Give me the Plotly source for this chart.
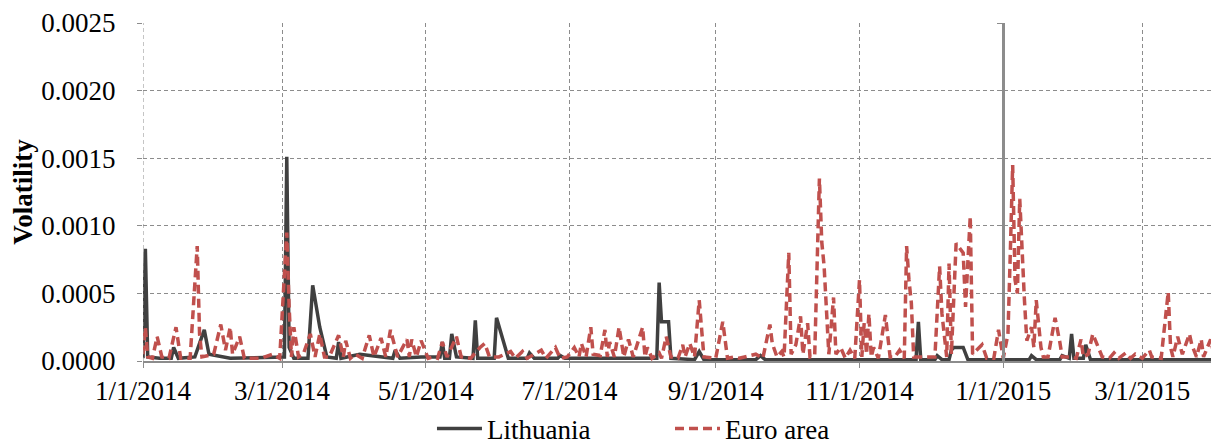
import plotly.graph_objects as go
import datetime as _dt

# ---------------- data ----------------
lt_dates = [
    "2014-01-01", "2014-01-02", "2014-01-03", "2014-01-08", "2014-01-13", "2014-01-14",
    "2014-01-16", "2014-01-23", "2014-01-27", "2014-01-29", "2014-02-07", "2014-02-28",
    "2014-03-02", "2014-03-03", "2014-03-04", "2014-03-06", "2014-03-12", "2014-03-14",
    "2014-03-17", "2014-03-20", "2014-03-24", "2014-03-25", "2014-03-26",
    "2014-04-03", "2014-04-11", "2014-04-17", "2014-04-18", "2014-04-20", "2014-04-29",
    "2014-05-07", "2014-05-08", "2014-05-09", "2014-05-11", "2014-05-12", "2014-05-14",
    "2014-05-21", "2014-05-22", "2014-05-23", "2014-05-30", "2014-05-31", "2014-06-03",
    "2014-06-05", "2014-06-13", "2014-06-14", "2014-06-16", "2014-06-26", "2014-06-27",
    "2014-06-29", "2014-07-31",
    "2014-08-07", "2014-08-08", "2014-08-09", "2014-08-12", "2014-08-13", "2014-08-23",
    "2014-08-25", "2014-08-27", "2014-09-18", "2014-09-20", "2014-09-22",
    "2014-11-25", "2014-11-26", "2014-11-27", "2014-12-03", "2014-12-04", "2014-12-06",
    "2014-12-09", "2014-12-10", "2014-12-11", "2014-12-15", "2014-12-17",
    "2015-01-01", "2015-01-12", "2015-01-13", "2015-01-15", "2015-01-25", "2015-01-26",
    "2015-01-29", "2015-01-30", "2015-01-31", "2015-02-04", "2015-02-05", "2015-02-07",
    "2015-03-31",
]
lt_vol = [
    0.00002, 0.00083, 0.00003, 0.00002, 0.00002, 0.00010,
    0.00002, 0.00003, 0.00023, 0.00005, 0.00002, 0.00003,
    0.00003, 0.00151, 0.00010, 0.00002, 0.00002, 0.00056,
    0.00025, 0.00003, 0.00002, 0.00014, 0.00002,
    0.00005, 0.00003, 0.00002, 0.00008, 0.00002, 0.00003,
    0.00003, 0.00014, 0.00002, 0.00002, 0.00020, 0.00003,
    0.00002, 0.00030, 0.00002, 0.00002, 0.00032, 0.00014,
    0.00002, 0.00002, 0.00006, 0.00002, 0.00002, 0.00004,
    0.00002, 0.00002,
    0.00002, 0.00058, 0.00029, 0.00029, 0.00002, 0.00001,
    0.00007, 0.00001, 0.00001, 0.00004, 0.00001,
    0.00001, 0.00029, 0.00001, 0.00001, 0.00004, 0.00001,
    0.00001, 0.00008, 0.00010, 0.00010, 0.00001,
    0.00001, 0.00001, 0.00004, 0.00001, 0.00001, 0.00004,
    0.00002, 0.00020, 0.00002, 0.00002, 0.00012, 0.00001,
    0.00001,
]

ea_dates = [
    "2014-01-01", "2014-01-02", "2014-01-03", "2014-01-05", "2014-01-07", "2014-01-09",
    "2014-01-12", "2014-01-15", "2014-01-17", "2014-01-21", "2014-01-24", "2014-01-25",
    "2014-01-26", "2014-01-31",
    "2014-02-03", "2014-02-05", "2014-02-07", "2014-02-08", "2014-02-11", "2014-02-13",
    "2014-02-20", "2014-02-25", "2014-02-28",
    "2014-03-03", "2014-03-04", "2014-03-05", "2014-03-06", "2014-03-08", "2014-03-10",
    "2014-03-13", "2014-03-15", "2014-03-17", "2014-03-19", "2014-03-21", "2014-03-25",
    "2014-03-27", "2014-03-28", "2014-03-30",
    "2014-04-01", "2014-04-04", "2014-04-07", "2014-04-09", "2014-04-12", "2014-04-14",
    "2014-04-16", "2014-04-19", "2014-04-23", "2014-04-24", "2014-04-25", "2014-04-27",
    "2014-04-29",
    "2014-05-02", "2014-05-04", "2014-05-06", "2014-05-08", "2014-05-10", "2014-05-14",
    "2014-05-16", "2014-05-20", "2014-05-24", "2014-05-26", "2014-05-28",
    "2014-06-01", "2014-06-06", "2014-06-08", "2014-06-11", "2014-06-13", "2014-06-19",
    "2014-06-21", "2014-06-25", "2014-06-27", "2014-06-30",
    "2014-07-03", "2014-07-05", "2014-07-06", "2014-07-08", "2014-07-10", "2014-07-11",
    "2014-07-14", "2014-07-16", "2014-07-17", "2014-07-18", "2014-07-20", "2014-07-22",
    "2014-07-24", "2014-07-26", "2014-07-28",
    "2014-08-01", "2014-08-02", "2014-08-03", "2014-08-05", "2014-08-08", "2014-08-09",
    "2014-08-11", "2014-08-13", "2014-08-16", "2014-08-18", "2014-08-19", "2014-08-21",
    "2014-08-23", "2014-08-25", "2014-08-27",
    "2014-09-01", "2014-09-04", "2014-09-06", "2014-09-09", "2014-09-11", "2014-09-18",
    "2014-09-21", "2014-09-24", "2014-09-25", "2014-09-27", "2014-09-29", "2014-09-30",
    "2014-10-02", "2014-10-03", "2014-10-05", "2014-10-07", "2014-10-08", "2014-10-10",
    "2014-10-11", "2014-10-13", "2014-10-15", "2014-10-16", "2014-10-17", "2014-10-18",
    "2014-10-19", "2014-10-21", "2014-10-22", "2014-10-24", "2014-10-26", "2014-10-28",
    "2014-10-30",
    "2014-11-01", "2014-11-02", "2014-11-03", "2014-11-04", "2014-11-05", "2014-11-06",
    "2014-11-07", "2014-11-09", "2014-11-12", "2014-11-14", "2014-11-16", "2014-11-18",
    "2014-11-20", "2014-11-21", "2014-11-22", "2014-11-23", "2014-11-24", "2014-11-29",
    "2014-12-03", "2014-12-05", "2014-12-06", "2014-12-08", "2014-12-09", "2014-12-10",
    "2014-12-12", "2014-12-15", "2014-12-16", "2014-12-18", "2014-12-19", "2014-12-23",
    "2014-12-25", "2014-12-28", "2014-12-30",
    "2015-01-01", "2015-01-03", "2015-01-04", "2015-01-05", "2015-01-06", "2015-01-07",
    "2015-01-08", "2015-01-09", "2015-01-10", "2015-01-11", "2015-01-13", "2015-01-14",
    "2015-01-15", "2015-01-17", "2015-01-18", "2015-01-20", "2015-01-23", "2015-01-25",
    "2015-01-26", "2015-01-28", "2015-01-30",
    "2015-02-01", "2015-02-03", "2015-02-04", "2015-02-06", "2015-02-08", "2015-02-10",
    "2015-02-12", "2015-02-15", "2015-02-17", "2015-02-19", "2015-02-22", "2015-02-24",
    "2015-02-26",
    "2015-03-01", "2015-03-04", "2015-03-05", "2015-03-09", "2015-03-12", "2015-03-13",
    "2015-03-14", "2015-03-16", "2015-03-18", "2015-03-21", "2015-03-22", "2015-03-24",
    "2015-03-26", "2015-03-27", "2015-03-30", "2015-03-31",
]
ea_vol = [
    0.00005, 0.00025, 0.00003, 0.00002, 0.00018, 0.00003,
    0.00002, 0.00025, 0.00002, 0.00002, 0.00085, 0.00020,
    0.00003, 0.00005,
    0.00027, 0.00008, 0.00025, 0.00005, 0.00018, 0.00002,
    0.00002, 0.00005, 0.00002,
    0.00095, 0.00040, 0.00003, 0.00025, 0.00003, 0.00005,
    0.00020, 0.00003, 0.00020, 0.00003, 0.00003, 0.00019,
    0.00003, 0.00015, 0.00002,
    0.00005, 0.00002, 0.00019, 0.00003, 0.00017, 0.00003,
    0.00023, 0.00003, 0.00016, 0.00003, 0.00016, 0.00003,
    0.00015,
    0.00002, 0.00003, 0.00002, 0.00014, 0.00003, 0.00018,
    0.00003, 0.00002, 0.00010, 0.00013, 0.00003,
    0.00003, 0.00007, 0.00002, 0.00007, 0.00002, 0.00008,
    0.00002, 0.00010, 0.00002, 0.00003,
    0.00010, 0.00003, 0.00013, 0.00003, 0.00025, 0.00005,
    0.00004, 0.00023, 0.00003, 0.00014, 0.00003, 0.00025,
    0.00003, 0.00016, 0.00003,
    0.00025, 0.00003, 0.00010, 0.00002, 0.00006, 0.00002,
    0.00018, 0.00003, 0.00002, 0.00012, 0.00003, 0.00013,
    0.00003, 0.00045, 0.00003,
    0.00002, 0.00029, 0.00002, 0.00003, 0.00002, 0.00005,
    0.00002, 0.00027, 0.00013, 0.00003, 0.00007, 0.00003,
    0.00080, 0.00005, 0.00012, 0.00033, 0.00005, 0.00028,
    0.00003, 0.00004, 0.00135, 0.00088, 0.00070, 0.00035,
    0.00005, 0.00047, 0.00005, 0.00010, 0.00002, 0.00008,
    0.00002,
    0.00060, 0.00003, 0.00028, 0.00005, 0.00035, 0.00003,
    0.00010, 0.00002, 0.00034, 0.00003, 0.00003, 0.00008,
    0.00002, 0.00085, 0.00060, 0.00043, 0.00003, 0.00003,
    0.00003, 0.00070, 0.00035, 0.00003, 0.00072, 0.00005,
    0.00087, 0.00080, 0.00040, 0.00107, 0.00005, 0.00012,
    0.00002, 0.00002, 0.00023,
    0.00002, 0.00020, 0.00080, 0.00145, 0.00060, 0.00050,
    0.00120, 0.00075, 0.00045, 0.00015, 0.00025, 0.00010,
    0.00045, 0.00010, 0.00003, 0.00003, 0.00032, 0.00014,
    0.00003, 0.00003, 0.00003,
    0.00002, 0.00016, 0.00003, 0.00005, 0.00020, 0.00012,
    0.00003, 0.00002, 0.00006, 0.00002, 0.00006, 0.00002,
    0.00005,
    0.00002, 0.00008, 0.00003, 0.00002, 0.00051, 0.00010,
    0.00003, 0.00018, 0.00005, 0.00020, 0.00012, 0.00003,
    0.00016, 0.00003, 0.00016, 0.00008,
]

x_tick_vals = ["2014-01-01", "2014-03-01", "2014-05-01", "2014-07-01", "2014-09-01",
               "2014-11-01", "2015-01-01", "2015-03-01"]
x_tick_text = ["1/1/2014", "3/1/2014", "5/1/2014", "7/1/2014", "9/1/2014",
               "11/1/2014", "1/1/2015", "3/1/2015"]
y_tick_vals = [0.0, 0.0005, 0.0010, 0.0015, 0.0020, 0.0025]
x_range = ["2014-01-01", "2015-03-31"]
y_range = [0.0, 0.0025]
euro_entry = "2015-01-01"

# ---------------- figure ----------------
FONT = "Liberation Serif, Times New Roman, serif"
GRID = "#8c8c8c"
FS = 27

fig = go.Figure()
fig.add_trace(go.Scatter(
    x=lt_dates, y=lt_vol, name="Lithuania", mode="lines",
    line=dict(color="#404040", width=3.5),
))
fig.add_trace(go.Scatter(
    x=ea_dates, y=ea_vol, name="Euro area", mode="lines",
    line=dict(color="#C0504D", width=3.5, dash="9px,5px"),
))
# carrier trace for the euro-adoption axis
fig.add_trace(go.Scatter(x=[None], y=[None], yaxis="y2", showlegend=False,
                         hoverinfo="skip", mode="lines"))

fig.update_layout(
    width=1219, height=446,
    margin=dict(l=135, r=14, t=15, b=93, autoexpand=False),
    paper_bgcolor="white", plot_bgcolor="white",
    font=dict(family=FONT, size=FS, color="black"),
    showlegend=True,
    legend=dict(orientation="h", x=0.4925, xanchor="center", y=0.056, yanchor="middle",
                yref="container", itemwidth=45, entrywidth=178,
                font=dict(family=FONT, size=FS), bgcolor="rgba(0,0,0,0)"),
    xaxis=dict(
        type="date", range=x_range, tickvals=x_tick_vals, ticktext=x_tick_text,
        showgrid=True, gridcolor=GRID, griddash="4px,3px", gridwidth=1,
        showline=True, linecolor=GRID, linewidth=1.5,
        ticks="outside", ticklen=5, tickcolor=GRID,
        zeroline=False, tickfont=dict(family=FONT, size=FS), automargin=False,
    ),
    yaxis=dict(
        range=y_range, tickvals=y_tick_vals, tickformat=".4f",
        showgrid=True, gridcolor=GRID, griddash="4px,3px", gridwidth=1,
        showline=False, zeroline=False,
        ticks="outside", ticklen=5, tickcolor=GRID,
        tickfont=dict(family=FONT, size=FS),
        ticklabelstandoff=16, automargin=False,
        title=dict(text="<b>Volatility</b>", font=dict(family=FONT, size=FS), standoff=4),
    ),
    yaxis2=dict(
        overlaying="y", anchor="free", side="left",
        position=0.0, range=y_range, tickvals=y_tick_vals,
        showticklabels=False, showgrid=False, zeroline=False,
        showline=True, linecolor=GRID, linewidth=3,
        ticks="outside", ticklen=5, tickcolor=GRID, automargin=False,
    ),
    shapes=[dict(type="line", xref="x", yref="paper", x0=x_range[0], x1=x_range[0],
                 y0=0, y1=1, line=dict(color=GRID, width=1, dash="4px,3px"))],
)

# place the euro-adoption axis at 1/1/2015 as a fraction of the x domain
_d0 = _dt.date.fromisoformat(x_range[0])
_d1 = _dt.date.fromisoformat(x_range[1])
_de = _dt.date.fromisoformat(euro_entry)
fig.layout.yaxis2.position = (_de - _d0).days / (_d1 - _d0).days

fig.write_html("out.html")
